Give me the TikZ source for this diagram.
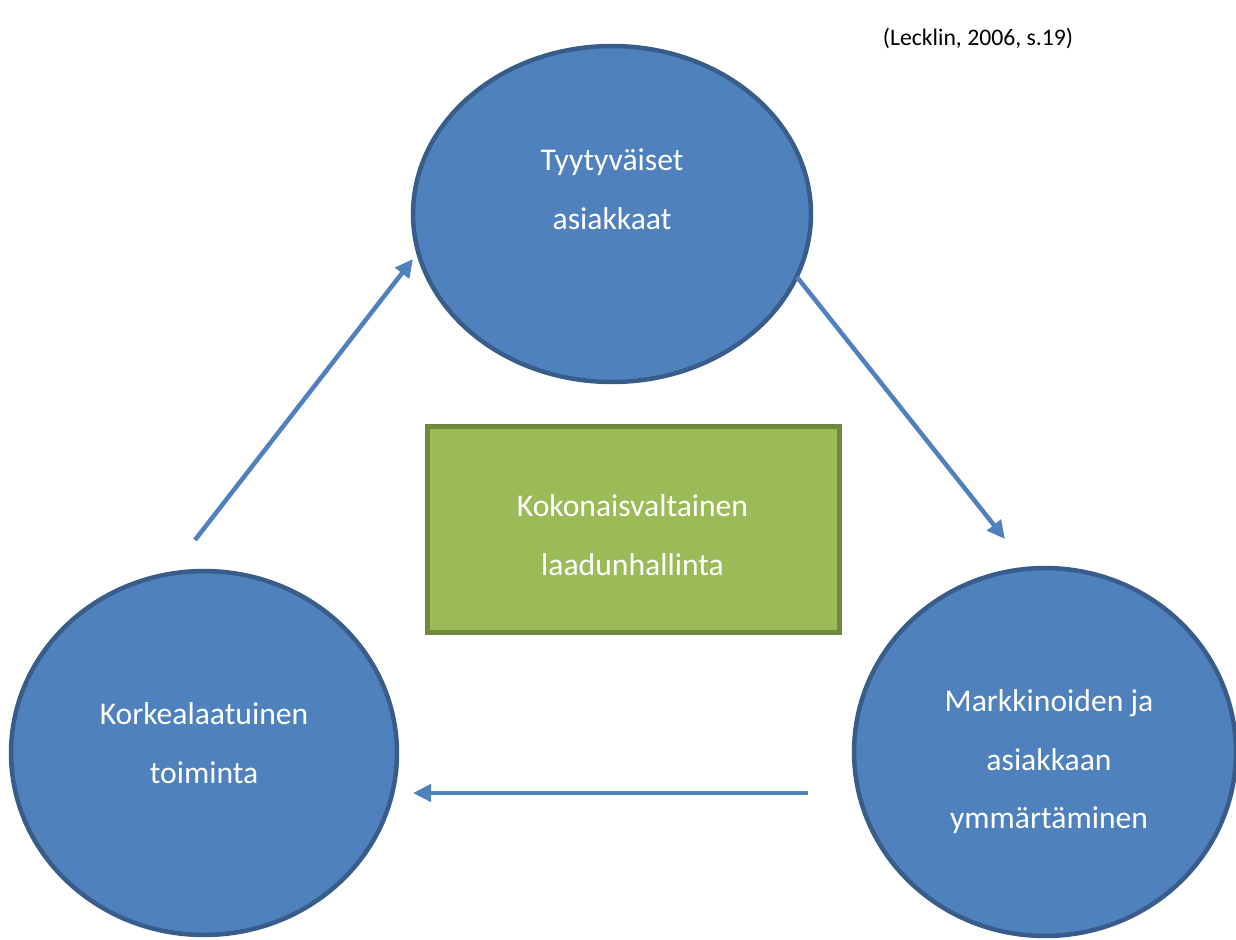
\documentclass[tikz,border=0pt]{standalone}
\usepackage{fontspec}
\setmainfont{Carlito}
\usetikzlibrary{shapes.geometric, arrows.meta}
\usepackage{xcolor}
\definecolor{OfficeBlue}{HTML}{4F81BD}
\definecolor{OfficeBlueEdge}{HTML}{385D8A}
\definecolor{OfficeGreen}{HTML}{9BBB59}
\definecolor{OfficeGreenEdge}{HTML}{71893F}

\begin{document}
\begin{tikzpicture}[x=0.02cm, y=-0.02cm,
    bubble/.style={ellipse, draw=OfficeBlueEdge, fill=OfficeBlue, line width=0.09cm, inner sep=0pt},
    txt/.style={text=white, align=center, font=\fontsize{18}{33.3}\selectfont},
    flow/.style={-{Triangle[length=0.36cm, width=0.34cm]}, line width=0.09cm, OfficeBlue}]
    \useasboundingbox (0,0) rectangle (1236,939);

    % Circles
    \node[bubble, minimum width=7.96cm, minimum height=6.72cm] (asiakkaat) at (612,214) {};
    \node[bubble, minimum width=7.72cm, minimum height=7.28cm] (toiminta) at (204,753) {};
    \node[bubble, minimum width=7.64cm, minimum height=7.36cm] (ymmarrys) at (1045,752) {};

    % Centre box
    \node[draw=OfficeGreenEdge, fill=OfficeGreen, line width=0.1cm, inner sep=0pt,
          minimum width=8.24cm, minimum height=4.12cm] (tqm) at (633.5,529.5) {};

    % Texts
    \node[txt] (asiakkaat-txt) at (612,189) {Tyytyväiset\\asiakkaat};
    \node[txt] (toiminta-txt) at (204,743) {Korkealaatuinen\\toiminta};
    \node[txt] (ymmarrys-txt) at (1049,762) {Markkinoiden ja\\asiakkaan\\ymmärtäminen};
    \node[txt] (tqm-txt) at (632.5,535) {Kokonaisvaltainen\\laadunhallinta};
    \node[font=\fontsize{13.5}{16}\selectfont] (lahde) at (978,38) {(Lecklin, 2006, s.19)};

    % Arrows
    \coordinate (up-start) at (195,540);
    \coordinate (up-end) at (413,259);
    \coordinate (down-start) at (797,277);
    \coordinate (down-end) at (1005,539);
    \coordinate (back-start) at (808,793);
    \coordinate (back-end) at (413,793);
    \draw[flow] (up-start) -- (up-end);
    \draw[flow] (down-start) -- (down-end);
    \draw[flow] (back-start) -- (back-end);
\end{tikzpicture}
\end{document}
